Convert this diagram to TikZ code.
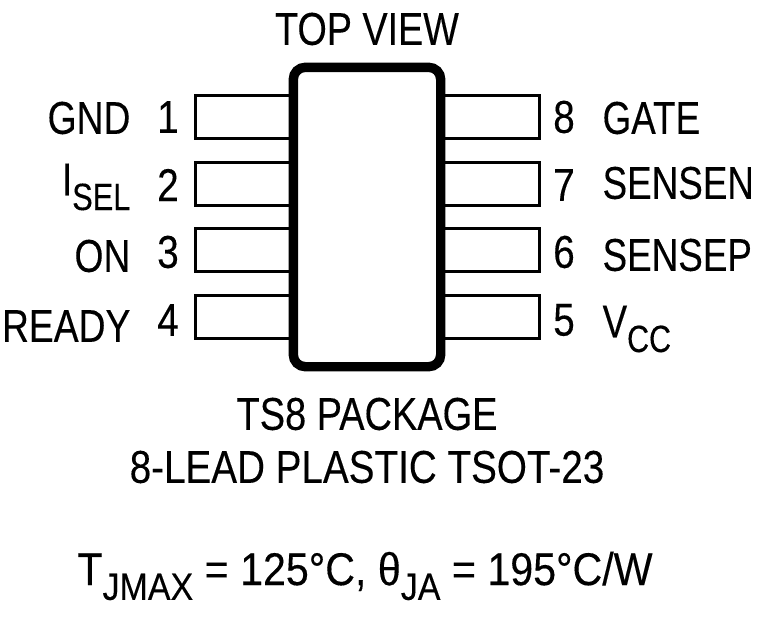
\documentclass[tikz,border=0pt]{standalone}
\usepackage{fontspec}
\setmainfont[BoldFont={Liberation Sans},BoldFeatures={FakeBold=0.25}]{Liberation Sans}
\usepackage{tikz}
\usetikzlibrary{positioning, calc}
\newcommand{\narrowtext}[2][0.84]{\scalebox{#1}[1]{#2}}
\newcommand{\lowtext}[1]{\raisebox{-0.32em}{\fontsize{19}{19}\selectfont #1}}
\begin{document}
\begin{tikzpicture}[x=0.5pt, y=-0.5pt, semithick]
\tikzstyle{every node}=[font=\fontsize{23}{26}\selectfont\bfseries, inner sep=0pt, text=black]
\tikzstyle{pin}=[draw=black, line width=1.5pt, minimum width=48pt, minimum height=21.5pt]
\tikzstyle{body}=[draw=black, line width=4.7pt, rounded corners=6pt, minimum width=73.7pt, minimum height=149.7pt]
\useasboundingbox (0,0) rectangle (760,616);
\node[pin]    (P1)  at (243,117) {};
\node[pin]    (P2)  at (243,184) {};
\node[pin]    (P3)  at (243,250) {};
\node[pin]    (P4)  at (243,317) {};
\node[pin]    (P8)  at (491,117) {};
\node[pin]    (P7)  at (491,184) {};
\node[pin]    (P6)  at (491,250) {};
\node[pin]    (P5)  at (491,317) {};
\node[body, fill=white]   (IC)  at (367,217) {};
\node (NUM1) at (168,117) {\narrowtext{1}};
\node (NUM2) at (168,185) {\narrowtext{2}};
\node (NUM3) at (168,252) {\narrowtext{3}};
\node (NUM4) at (168,320) {\narrowtext{4}};
\node (NUM8) at (564,117) {\narrowtext{8}};
\node (NUM7) at (564,185) {\narrowtext{7}};
\node (NUM6) at (564,252) {\narrowtext{6}};
\node (NUM5) at (564,320) {\narrowtext{5}};
\node[anchor=east] (GND)   at (131,118) {\narrowtext[0.81]{GND}};
\node[anchor=east] (ISEL)  at (131,187) {\narrowtext[0.81]{I\lowtext{SEL}}};
\node[anchor=east] (ON)    at (131,256) {\narrowtext[0.81]{ON}};
\node[anchor=east] (READY) at (131,326) {\narrowtext[0.81]{READY}};
\node[anchor=west] (GATE)  at (602,118) {\narrowtext[0.80]{GATE}};
\node[anchor=west] (SENSEN) at (602,183) {\narrowtext[0.80]{SENSEN}};
\node[anchor=west] (SENSEP) at (602,255) {\narrowtext[0.80]{SENSEP}};
\node[anchor=west] (VCC)   at (602,329) {\narrowtext[0.80]{V\lowtext{CC}}};
\node (TOP)  at (367,29)  {\narrowtext[0.82]{TOP VIEW}};
\node (PKG)  at (367,414) {\narrowtext[0.825]{TS8 PACKAGE}};
\node (LEAD) at (367,467) {\narrowtext{8-LEAD PLASTIC TSOT-23}};
\node (TJ)   at (365,576) {\narrowtext[0.895]{T\lowtext{JMAX} = 125°C, θ\lowtext{JA} = 195°C/W}};
\end{tikzpicture}
\end{document}
